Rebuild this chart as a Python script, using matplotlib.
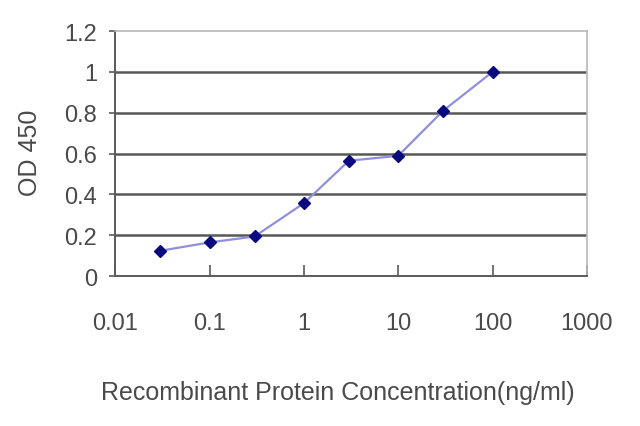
"""ELISA standard curve: OD 450 against recombinant protein concentration."""

import matplotlib

matplotlib.use("Agg")
import matplotlib.pyplot as plt
from matplotlib.ticker import FixedLocator, NullLocator

plt.rcParams["font.family"] = ["Liberation Sans", "DejaVu Sans"]

concentration = [0.03, 0.1, 0.3, 1, 3, 10, 30, 100]
od450 = [0.124, 0.165, 0.194, 0.357, 0.565, 0.589, 0.81, 1.0]
x_ticks = [0.01, 0.1, 1, 10, 100, 1000]
x_tick_labels = ["0.01", "0.1", "1", "10", "100", "1000"]
y_ticks = [0, 0.2, 0.4, 0.6, 0.8, 1.0, 1.2]
y_tick_labels = ["0", "0.2", "0.4", "0.6", "0.8", "1", "1.2"]

text_color = "#4a4a4a"

fig = plt.figure(figsize=(6.4, 4.27), dpi=100)
ax = fig.add_axes([0.18, 0.351, 0.737, 0.574])

ax.set_xscale("log")
ax.set_xlim(0.01, 1000)
ax.set_ylim(0, 1.2)

for level in y_ticks[1:-1]:
    ax.axhline(level, color="#585858", linewidth=1.8, zorder=1)

ax.plot(concentration, od450, color="#8f8fdc", linewidth=1.6, zorder=2)
ax.plot(concentration, od450, linestyle="none", marker="D", markersize=6.5,
        color="#0a0a80", zorder=3)

ax.xaxis.set_major_locator(FixedLocator(x_ticks))
ax.xaxis.set_minor_locator(NullLocator())
ax.set_xticklabels(x_tick_labels)
ax.set_yticks(y_ticks)
ax.set_yticklabels(y_tick_labels)

ax.tick_params(axis="x", direction="in", length=8, width=1.2, color="#5a5a5a",
               labelsize=17, labelcolor=text_color, pad=26)
ax.tick_params(axis="y", direction="out", length=4, width=1.2, color="#5a5a5a",
               labelsize=17, labelcolor=text_color, pad=9)

for side in ("left", "bottom"):
    ax.spines[side].set_color("#5a5a5a")
    ax.spines[side].set_linewidth(1.4)
for side in ("top", "right"):
    ax.spines[side].set_color("#b8b8b8")
    ax.spines[side].set_linewidth(1.2)

ax.set_ylabel("OD 450", fontsize=18, color=text_color)
ax.yaxis.set_label_coords(-0.155, 0.506)
ax.set_xlabel("Recombinant Protein Concentration(ng/ml)", fontsize=18,
              color=text_color, labelpad=33)
ax.xaxis.label.set_x(0.472)

fig.savefig("out.png", dpi=100, facecolor="white")
